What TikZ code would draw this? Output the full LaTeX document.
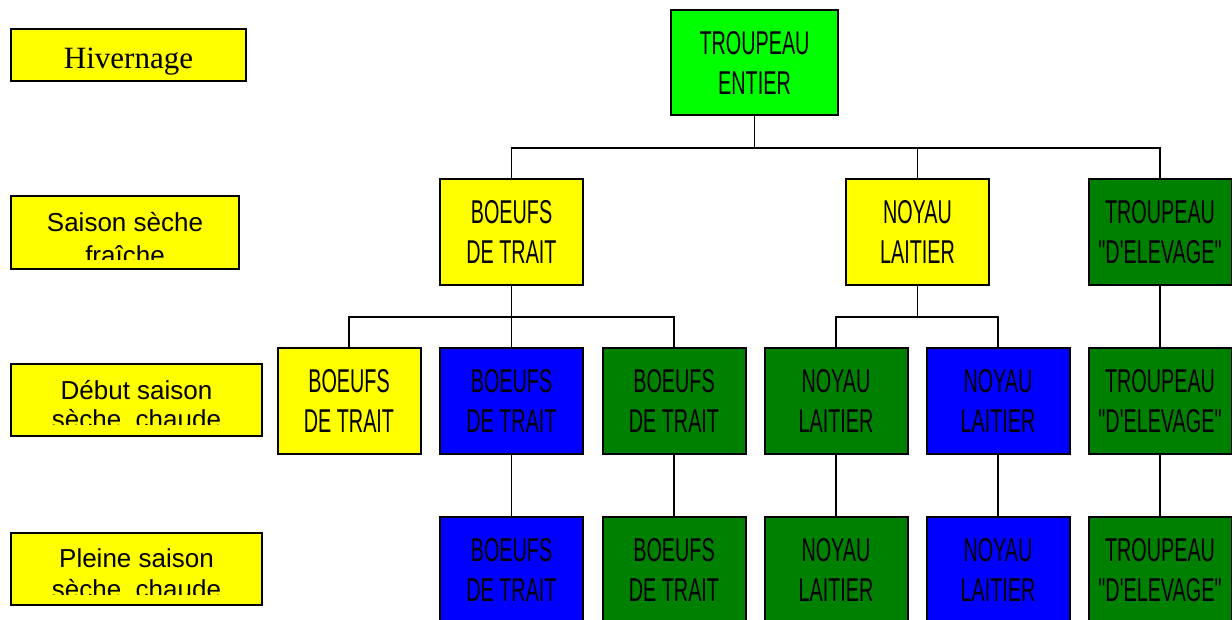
\documentclass[tikz,border=0pt]{standalone}
\usepackage{fontspec}
\newfontfamily\narrowf{Liberation Sans}[FakeStretch=0.6]
\newfontfamily\arialf{Liberation Sans}
\newfontfamily\timesf{Liberation Serif}
\definecolor{cyel}{RGB}{255,255,0}
\definecolor{clime}{RGB}{0,255,0}
\definecolor{cblue}{RGB}{0,0,255}
\definecolor{cdgreen}{RGB}{0,128,0}
\begin{document}
\begin{tikzpicture}[x=1pt,y=-1pt,
  box/.style={draw=black, line width=2pt, minimum width=143pt, minimum height=106pt,
    inner sep=0pt, align=center, text=black, font=\narrowf\fontsize{33}{40}\selectfont},
  lbox/.style={draw=black, line width=2pt, fill=cyel, inner sep=0pt},
  ltext/.style={anchor=base, inner sep=0pt, font=\arialf\fontsize{26}{29}\selectfont},
  link/.style={line width=1.6pt}]
\path[use as bounding box] (0,0) rectangle (1232,619);
\clip (0,0) rectangle (1232,619);

% left labels
\node[lbox, minimum width=235pt, minimum height=52pt] (L1) at (128.5,55) {};
\node[anchor=base, inner sep=0pt, font=\timesf\fontsize{31}{34}\selectfont] (L1t) at (128.5,68) {Hivernage};

\node[lbox, minimum width=228pt, minimum height=73pt] (L2) at (125,232.5) {};
\begin{scope}
\clip (12,197) rectangle (238,259.5);
\node[ltext] (L2a) at (125,231) {Saison sèche};
\node[ltext] (L2b) at (125,264) {fraîche};
\end{scope}

\node[lbox, minimum width=251pt, minimum height=72pt] (L3) at (136.5,400) {};
\begin{scope}
\clip (12,365) rectangle (261,424);
\node[ltext] (L3a) at (136.5,399) {Début saison};
\node[ltext] (L3b) at (136.5,428.5) {sèche, chaude};
\end{scope}

\node[lbox, minimum width=251pt, minimum height=72pt] (L4) at (136.5,569) {};
\begin{scope}
\clip (12,534) rectangle (261,594);
\node[ltext] (L4a) at (136.5,567) {Pleine saison};
\node[ltext] (L4b) at (136.5,598.5) {sèche, chaude};
\end{scope}

% tree
\node[box, fill=clime, minimum width=167pt, minimum height=105pt] (top) at (754.5,62.5) {TROUPEAU\\ENTIER};

\node[box, fill=cyel] (b2) at (511.5,232) {BOEUFS\\DE TRAIT};
\node[box, fill=cyel] (n2) at (917.5,232) {NOYAU\\LAITIER};
\node[box, fill=cdgreen] (t2) at (1160,232) {TROUPEAU\\"D'ELEVAGE"};

\node[box, fill=cyel] (b3a) at (349,401) {BOEUFS\\DE TRAIT};
\node[box, fill=cblue] (b3b) at (511.5,401) {BOEUFS\\DE TRAIT};
\node[box, fill=cdgreen] (b3c) at (674,401) {BOEUFS\\DE TRAIT};
\node[box, fill=cdgreen] (n3a) at (836,401) {NOYAU\\LAITIER};
\node[box, fill=cblue] (n3b) at (998,401) {NOYAU\\LAITIER};
\node[box, fill=cdgreen] (t3) at (1160,401) {TROUPEAU\\"D'ELEVAGE"};

\node[box, fill=cblue] (b4b) at (511.5,570) {BOEUFS\\DE TRAIT};
\node[box, fill=cdgreen] (b4c) at (674,570) {BOEUFS\\DE TRAIT};
\node[box, fill=cdgreen] (n4a) at (836,570) {NOYAU\\LAITIER};
\node[box, fill=cblue] (n4b) at (998,570) {NOYAU\\LAITIER};
\node[box, fill=cdgreen] (t4) at (1160,570) {TROUPEAU\\"D'ELEVAGE"};

% connectors
\coordinate (j1) at (754.5,148);
\draw[link] (top.south) -- (j1);
\draw[link] (j1) -| (b2.north);
\draw[link] (j1) -| (n2.north);
\draw[link] (j1) -| (t2.north);

\coordinate (j2) at (511.5,317);
\draw[link] (b2.south) -- (b3b.north);
\draw[link] (j2) -| (b3a.north);
\draw[link] (j2) -| (b3c.north);

\coordinate (j3) at (917.5,317);
\draw[link] (n2.south) -- (j3);
\draw[link] (j3) -| (n3a.north);
\draw[link] (j3) -| (n3b.north);

\draw[link] (t2.south) -- (t3.north);

\draw[link] (b3b.south) -- (b4b.north);
\draw[link] (b3c.south) -- (b4c.north);
\draw[link] (n3a.south) -- (n4a.north);
\draw[link] (n3b.south) -- (n4b.north);
\draw[link] (t3.south) -- (t4.north);
\end{tikzpicture}
\end{document}
